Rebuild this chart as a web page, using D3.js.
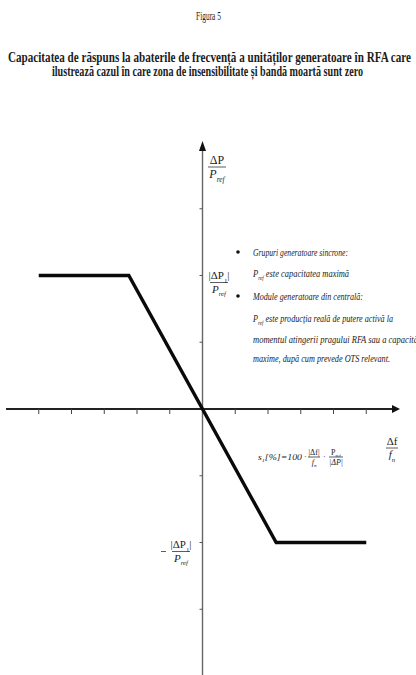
<!DOCTYPE html>
<html>
<head>
<meta charset="utf-8">
<script src="https://cdn.jsdelivr.net/npm/d3@7"></script>
<style>
  html, body { margin: 0; padding: 0; background: #fff; }
  svg { display: block; }
  text { font-family: "Liberation Serif", "DejaVu Serif", serif; fill: #1c1c1c; }
</style>
</head>
<body>
<svg id="chart" width="416" height="675"></svg>
<script>
// ---- data ----
const figureLabel = "Figura 5";
const titleLines = [
  "Capacitatea de răspuns la abaterile de frecvență a unităților generatoare în RFA care",
  "ilustrează cazul în care zona de insensibilitate și bandă moartă sunt zero"
];
const freqTicks = [-5, -4, -3, -2, -1, 1, 2, 3, 4, 5];
const powerTicks = [-3, -2, -1, 1, 2, 3];
// droop characteristic: Δf/fn (x) versus ΔP/Pref (y)
const freqDeviation = [-5, -2.25, 2.25, 5];
const powerResponse = [2, 2, -2, -2];
const limitLevel = [2, -2];                 // ±|ΔP1|/Pref
const noteLines = [
  "Grupuri generatoare sincrone:",
  "P_{ref} este capacitatea maximă",
  "Module generatoare din centrală:",
  "P_{ref} este producția reală de putere activă la",
  "momentul atingerii pragului RFA sau a capacității",
  "maxime, după cum prevede OTS relevant."
];

// ---- setup ----
const svg = d3.select("#chart");
const x = d3.scaleLinear().domain([-6, 6]).range([6, 399]);
const y = d3.scaleLinear().domain([-4, 4]).range([676, 142]);

// rich text helper: "_{...}" becomes a subscript
function rich(parent, str, opts) {
  const t = parent.append("text")
    .attr("x", opts.x).attr("y", opts.y)
    .style("font-size", opts.size + "px")
    .style("font-style", opts.italic ? "italic" : "normal")
    .style("font-weight", opts.bold ? "bold" : "normal")
    .attr("text-anchor", opts.anchor || "start");
  const parts = str.split(/(_\{[^}]*\})/);
  let shifted = false;
  parts.forEach(p => {
    if (!p) return;
    const m = p.match(/^_\{([^}]*)\}$/);
    if (m) {
      t.append("tspan").attr("dy", opts.size * 0.3).style("font-size", (opts.size * 0.62) + "px").text(m[1]);
      shifted = true;
    } else {
      const ts = t.append("tspan").text(p);
      if (shifted) { ts.attr("dy", -opts.size * 0.3); shifted = false; }
    }
  });
  if (opts.width) t.attr("textLength", opts.width).attr("lengthAdjust", "spacingAndGlyphs");
  return t;
}

// fraction helper
function fraction(parent, num, den, cx, lineY, size, w) {
  const g = parent.append("g");
  rich(g, num, { x: cx, y: lineY - size * 0.28, size, italic: false, anchor: "middle" });
  g.append("line").attr("x1", cx - w / 2).attr("x2", cx + w / 2)
    .attr("y1", lineY).attr("y2", lineY).attr("stroke", "#333").attr("stroke-width", 0.8);
  rich(g, den, { x: cx, y: lineY + size * 0.95, size, italic: true, anchor: "middle" });
  return g;
}

// ---- headings ----
rich(svg, figureLabel, { x: 196, y: 20, size: 12.5, width: 25 });
rich(svg, titleLines[0], { x: 8, y: 62, size: 14, bold: true, width: 403 });
rich(svg, titleLines[1], { x: 52, y: 76, size: 14, bold: true, width: 311 });

// ---- axes ----
const ax = svg.append("g");
// x axis
ax.append("line").attr("x1", x(-6)).attr("x2", x(6) - 4)
  .attr("y1", y(0)).attr("y2", y(0)).attr("stroke", "#222").attr("stroke-width", 1.8);
ax.append("path")
  .attr("d", `M${x(6) + 1},${y(0)} L${x(6) - 7},${y(0) - 4} L${x(6) - 7},${y(0) + 4} Z`)
  .attr("fill", "#111");
ax.selectAll(".xt").data(freqTicks).join("line")
  .attr("x1", d => x(d)).attr("x2", d => x(d))
  .attr("y1", y(0)).attr("y2", y(0) + 5)
  .attr("stroke", "#444").attr("stroke-width", 1);
// y axis
ax.append("line").attr("x1", x(0)).attr("x2", x(0))
  .attr("y1", y(-4)).attr("y2", y(4) + 6)
  .attr("stroke", "#666").attr("stroke-width", 1.4);
ax.append("path")
  .attr("d", `M${x(0)},${y(4) - 1} L${x(0) - 3.5},${y(4) + 9} L${x(0) + 3.5},${y(4) + 9} Z`)
  .attr("fill", "#111");
ax.selectAll(".yt").data(powerTicks).join("line")
  .attr("x1", x(0) - 3).attr("x2", x(0))
  .attr("y1", d => y(d)).attr("y2", d => y(d))
  .attr("stroke", "#555").attr("stroke-width", 1);

// ---- characteristic ----
const pts = freqDeviation.map((f, i) => [f, powerResponse[i]]);
svg.append("path")
  .datum(pts)
  .attr("d", d3.line().x(d => x(d[0])).y(d => y(d[1])))
  .attr("fill", "none").attr("stroke", "#0a0a0a")
  .attr("stroke-width", 3.4).attr("stroke-linejoin", "miter");

// ---- axis titles ----
fraction(svg, "ΔP", "P_{ref}", 217, 167, 12, 18);
fraction(svg, "Δf", "f_{n}", 392, 448, 11, 12);

// tick labels at ±|ΔP1|/Pref
fraction(svg, "|ΔP_{1}|", "P_{ref}", 219, y(limitLevel[0]) + 7, 11, 18);
fraction(svg, "|ΔP_{1}|", "P_{ref}", 181, y(limitLevel[1]) + 9, 11, 18);
svg.append("line").attr("x1", 161).attr("x2", 166)
  .attr("y1", y(limitLevel[1]) + 9).attr("y2", y(limitLevel[1]) + 9)
  .attr("stroke", "#333").attr("stroke-width", 0.8);

// ---- droop formula ----
const fg = svg.append("g");
rich(fg, "s_{1}[%]=100", { x: 258, y: 460, size: 8, italic: true, width: 44 });
fg.append("text").attr("x", 304).attr("y", 459).style("font-size", "8px").text("·");
fraction(fg, "|Δf|", "f_{n}", 314, 457, 8, 12);
fg.append("text").attr("x", 323).attr("y", 459).style("font-size", "8px").text("·");
fraction(fg, "P_{ref}", "|ΔP|", 336, 457, 8, 14);

// ---- notes ----
const noteY = [256, 277, 300, 322, 343, 362];
const noteW = [95, 96, 110, 140, 172, 137];
const notes = svg.append("g");
noteLines.forEach((s, i) => rich(notes, s, { x: 253, y: noteY[i], size: 11, italic: true, width: noteW[i] }));
notes.selectAll("circle").data([0, 2]).join("circle")
  .attr("cx", 238).attr("cy", d => noteY[d] - 4).attr("r", 1.8).attr("fill", "#111");
</script>
</body>
</html>
